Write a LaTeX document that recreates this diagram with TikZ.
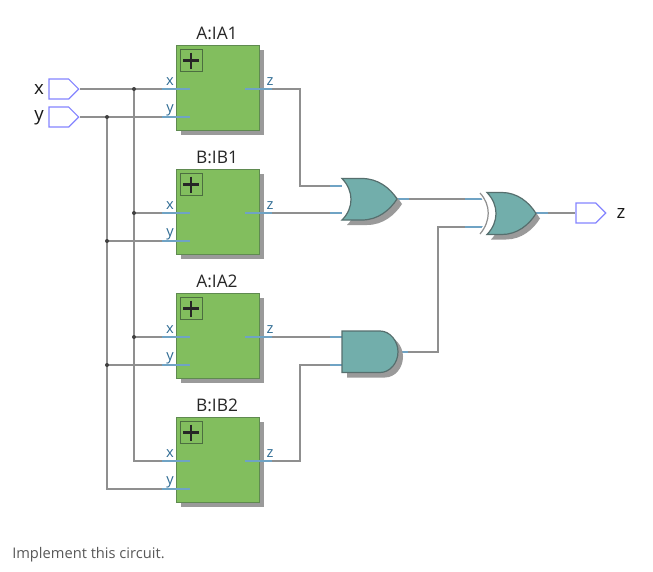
\documentclass[tikz,border=0pt]{standalone}
\usepackage{fontspec}
\setmainfont{Open Sans}
\usetikzlibrary{shapes.symbols}
\definecolor{wiregray}{HTML}{8F8F8F}
\definecolor{pinblue}{HTML}{6FA3C4}
\definecolor{pintext}{HTML}{2F6C94}
\definecolor{blockfill}{HTML}{82BE5E}
\definecolor{blockedge}{HTML}{5F8A50}
\definecolor{gatefill}{HTML}{72AEAB}
\definecolor{gateedge}{HTML}{566F6E}
\definecolor{shadowgray}{HTML}{9A9A9A}
\definecolor{portblue}{HTML}{8585FF}
\tikzset{
  wire/.style={draw=wiregray,line width=1pt},
  pinline/.style={draw=pinblue,line width=1pt},
  junction/.style={circle,fill=black!75,inner sep=0pt,minimum size=3pt},
  portbox/.style={signal,signal to=east,anchor=east,draw=portblue,fill=white,line width=.9pt,inner sep=0pt,minimum width=22.2pt,minimum height=15pt},
  porttext/.style={font=\fontsize{14pt}{16pt}\selectfont,text=black!90,inner sep=0pt},
  blocktext/.style={font=\fontsize{13pt}{15pt}\selectfont,text=black!85,inner sep=0pt},
  pintag/.style={font=\fontsize{11pt}{12pt}\selectfont,text=pintext,inner sep=0pt},
  blockbox/.style={draw=blockedge,fill=blockfill,line width=.9pt},
  gatebody/.style={draw=gateedge,fill=gatefill,line width=.9pt},
  gateshadow/.style={fill=shadowgray},
}
\newcommand{\myblock}[3]{%
  \begin{scope}[shift={(0,#2)}]
    \fill[shadowgray] (181,5) rectangle (264,90);
    \node[blockbox,anchor=north west,minimum width=62.2pt,minimum height=63.7pt,inner sep=0pt] (#1) at (176,0) {};
    \node[blocktext] (#1-name) at (217,-12) {#3};
    \node[draw=blockedge!80!black,line width=.9pt,anchor=north west,minimum size=16.5pt,inner sep=0pt] (#1-box) at (180,4) {};
    \draw[black!85,line width=2pt] (183,15.5) -- (199,15.5) (191,7.5) -- (191,23.5);
    \coordinate (#1-xw) at (162,44);
    \coordinate (#1-xp) at (190,44);
    \coordinate (#1-yw) at (162,72);
    \coordinate (#1-yp) at (190,72);
    \coordinate (#1-zp) at (245,44);
    \coordinate (#1-zw) at (272,44);
    \node[pintag] (#1-xt) at (170,37) {x};
    \node[pintag] (#1-yt) at (170,65) {y};
    \node[pintag] (#1-zt) at (270,37) {z};
    \draw[pinline] (#1-xw) -- (#1-xp);
    \draw[pinline] (#1-yw) -- (#1-yp);
    \draw[pinline] (#1-zp) -- (#1-zw);
  \end{scope}}
\begin{document}
\begin{tikzpicture}[x=0.75pt,y=-0.75pt]
\useasboundingbox[fill=white] (0,0) rectangle (653,571);
% named anchors of the gates
\coordinate (ortop) at (342,186);
\coordinate (orbot) at (342,213);
\coordinate (orout) at (397,199);
\coordinate (andtop) at (342,337);
\coordinate (andbot) at (342,365);
\coordinate (andout) at (398,352);
\coordinate (xortop) at (486,199);
\coordinate (xorbot) at (486,227);
\coordinate (xorout) at (536,213);
\coordinate (tx1) at (134,89);
\coordinate (ty1) at (107,117);
% blocks
\myblock{ia1}{45}{A:IA1}
\myblock{ib1}{169}{B:IB1}
\myblock{ia2}{293}{A:IA2}
\myblock{ib2}{417}{B:IB2}
% ports
\node[portbox] (px) at (79.5,89) {};
\node[portbox] (py) at (79.5,117) {};
\node[portbox] (pz) at (606.5,213) {};
\node[porttext] (lx) at (39,90) {x};
\node[porttext] (ly) at (39,118) {y};
\node[porttext] (lz) at (621,214) {z};
% wires from the input ports
\draw[wire] (px.east) -- (ia1-xw);
\draw[wire] (py.east) -- (ia1-yw);
\draw[wire] (tx1) |- (ib2-xw);
\draw[wire] (ty1) |- (ib2-yw);
\draw[wire] (ib1-xw -| tx1) -- (ib1-xw);
\draw[wire] (ib1-yw -| ty1) -- (ib1-yw);
\draw[wire] (ia2-xw -| tx1) -- (ia2-xw);
\draw[wire] (ia2-yw -| ty1) -- (ia2-yw);
\node[junction] (j1) at (tx1) {};
\node[junction] (j2) at (ty1) {};
\node[junction] (j3) at (ib1-xw -| tx1) {};
\node[junction] (j4) at (ib1-yw -| ty1) {};
\node[junction] (j5) at (ia2-xw -| tx1) {};
\node[junction] (j6) at (ia2-yw -| ty1) {};
% wires to the gates
\draw[wire] (ia1-zw) -- (ia1-zw -| 300,0) |- (ortop);
\draw[wire] (ib1-zw) -- (orbot);
\draw[wire] (ia2-zw) -- (andtop);
\draw[wire] (ib2-zw) -- (ib2-zw -| 300,0) |- (andbot);
\draw[wire] (orout) -- (xortop);
\draw[wire] (andout) -- (andout -| 438,0) |- (xorbot);
\draw[wire] (xorout) -- (pz.west);
% blue stubs at the gates
\draw[pinline] (330,186) -- (ortop);
\draw[pinline] (330,213) -- (orbot);
\draw[pinline] (330,337) -- (andtop);
\draw[pinline] (330,365) -- (andbot);
\draw[pinline] (orout) -- +(12,0);
\draw[pinline] (andout) -- +(10,0);
\draw[pinline] (465,199) -- (xortop);
\draw[pinline] (465,227) -- (xorbot);
\draw[pinline] (xorout) -- +(12,0);
% OR gate
\begin{scope}[shift={(5,5)}]
\fill[gateshadow] (342,178.5) -- (362,178.5) .. controls (378,178.5) and (390,188) .. (397,199) .. controls (390,210) and (378,220) .. (362,220) -- (342,220) .. controls (354,208) and (354,191) .. (342,178.5) -- cycle;
\end{scope}
\draw[gatebody] (342,178.5) -- (362,178.5) .. controls (378,178.5) and (390,188) .. (397,199) .. controls (390,210) and (378,220) .. (362,220) -- (342,220) .. controls (354,208) and (354,191) .. (342,178.5) -- cycle;
% AND gate
\fill[gateshadow] (347,336) -- (385,336) .. controls (395,336) and (403,346) .. (403,356.75) .. controls (403,368) and (395,377.5) .. (385,377.5) -- (347,377.5) -- cycle;
\draw[gatebody] (342,331) -- (380,331) .. controls (390,331) and (398,341) .. (398,351.75) .. controls (398,363) and (390,372.5) .. (380,372.5) -- (342,372.5) -- cycle;
% XOR gate
\draw[white,line width=3.5pt] (480,192) .. controls (491,205) and (491,221) .. (480,235);
\draw[wiregray,line width=.9pt] (480,193) .. controls (491,205) and (491,221) .. (480,234);
\begin{scope}[shift={(4,5)}]
\fill[gateshadow] (487,192.5) -- (502,192.5) .. controls (517,192.5) and (529,202) .. (536,213.5) .. controls (529,225) and (517,234.5) .. (502,234.5) -- (487,234.5) .. controls (499,222) and (499,205) .. (487,192.5) -- cycle;
\end{scope}
\draw[gatebody] (487,192.5) -- (502,192.5) .. controls (517,192.5) and (529,202) .. (536,213.5) .. controls (529,225) and (517,234.5) .. (502,234.5) -- (487,234.5) .. controls (499,222) and (499,205) .. (487,192.5) -- cycle;
% caption
\node[anchor=west,inner sep=0pt,font=\fontsize{11pt}{13pt}\selectfont,text=black!65] (cap) at (12,555) {Implement this circuit.};
\end{tikzpicture}
\end{document}
